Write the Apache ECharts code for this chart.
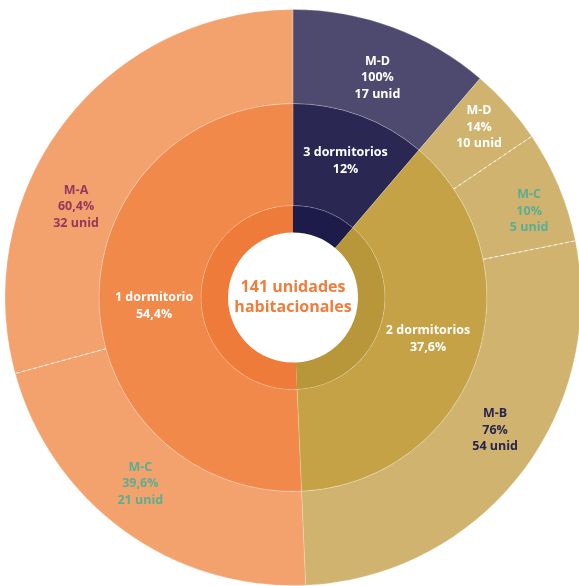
<!DOCTYPE html>
<html><head><meta charset="utf-8">
<script src="https://cdn.jsdelivr.net/npm/echarts@6/dist/echarts.min.js"></script>
<style>html,body{margin:0;padding:0;background:#fff}#c{width:579px;height:586px}</style>
</head><body><div id="c"></div>
<script>
// Inner ring: dormitory types (share of the circle as drawn, %)
const dormNames = ['3 dormitorios', '2 dormitorios', '1 dormitorio'];
const dormShares = [11.25, 38.05, 50.7];
const dormLabels = ['12%', '37,6%', '54,4%'];

// Outer ring: modules per dormitory type (share of the circle as drawn, %)
const modNames = ['M-D', 'M-D', 'M-C', 'M-B', 'M-C', 'M-A'];
const modGroup = [0, 1, 1, 1, 2, 2];
const modShares = [11.25, 4.3, 6.3, 27.45, 21.45, 29.25];
const modPct = ['100%', '14%', '10%', '76%', '39,6%', '60,4%'];
const modUnits = ['17 unid', '10 unid', '5 unid', '54 unid', '21 unid', '32 unid'];

const centerText = ['141 unidades', 'habitacionales'];

const C = [293, 297.5];
const R_IN0 = 65, R_IN1 = 92, R_MID = 194, R_OUT = 288;
const FONT = '"Open Sans", sans-serif';

const innerColors = ['#1d1b4a', '#b8973a', '#ee7b3a'];
const midColors = ['#2a2852', '#c4a245', '#f0894a'];
const outerColors = ['#4e496e', '#d0b36e', '#f3a26d'];
const modTextColors = ['#ffffff', '#ffffff', '#5aae94', '#27254f', '#5aae94', '#93385c'];
const modLabelOffsets = [[0, 9], [4, -8], [11, 8], [10, -18], [-9, -11], [-23, 57]];
const dormLabelOffsets = [[2, 0], [-3, -6], [7, 5]];

const chart = echarts.init(document.getElementById('c'));

const faint = { borderColor: 'rgba(255,255,255,0.35)', borderWidth: 0.6 };

// dashed separators between modules of the same dormitory group
const graphics = [];
let acc = 0;
const total = modShares.reduce((a, b) => a + b, 0);
for (let i = 0; i < modShares.length - 1; i++) {
  acc += modShares[i];
  if (modGroup[i] === modGroup[i + 1]) {
    const a = acc / total * Math.PI * 2; // clockwise from top
    const s = Math.sin(a), c = Math.cos(a);
    graphics.push({
      type: 'line', silent: true, z: 100,
      shape: { x1: C[0] + R_MID * s, y1: C[1] - R_MID * c, x2: C[0] + (R_OUT + 10) * s, y2: C[1] - (R_OUT + 10) * c },
      style: { stroke: 'rgba(255,255,255,0.85)', lineWidth: 1, lineDash: [3, 3] }
    });
  }
}
graphics.push({
  type: 'text', z: 100, x: C[0], y: C[1],
  style: {
    text: centerText.join('\n'), fill: '#ef7d3b', font: 'bold 16px ' + FONT,
    align: 'center', verticalAlign: 'middle', lineHeight: 20
  }
});

chart.setOption({
  animation: false,
  graphic: graphics,
  series: [
    {
      type: 'pie', center: C, radius: [R_IN0, R_IN1], startAngle: 90, clockwise: true,
      silent: true, label: { show: false }, labelLine: { show: false },
      data: dormNames.map((n, i) => ({ name: n, value: dormShares[i], itemStyle: { color: innerColors[i] } }))
    },
    {
      type: 'pie', center: C, radius: [R_IN1, R_MID], startAngle: 90, clockwise: true,
      silent: true, labelLine: { show: false },
      data: dormNames.map((n, i) => ({
        name: n, value: dormShares[i], itemStyle: Object.assign({ color: midColors[i] }, faint),
        label: {
          show: true, position: 'inside', color: '#ffffff', fontFamily: FONT, fontWeight: 'bold',
          fontSize: 12.5, lineHeight: 17, offset: dormLabelOffsets[i],
          formatter: () => dormNames[i] + '\n' + dormLabels[i]
        }
      }))
    },
    {
      type: 'pie', center: C, radius: [R_MID, R_OUT], startAngle: 90, clockwise: true,
      silent: true, labelLine: { show: false },
      data: modNames.map((n, i) => ({
        name: n + i, value: modShares[i],
        itemStyle: Object.assign({ color: outerColors[modGroup[i]] }, faint),
        label: {
          show: true, position: 'inside', color: modTextColors[i], fontFamily: FONT, fontWeight: 'bold',
          fontSize: 12.5, lineHeight: 16.5, offset: modLabelOffsets[i],
          formatter: () => modNames[i] + '\n' + modPct[i] + '\n' + modUnits[i]
        }
      }))
    }
  ]
});
</script></body></html>
